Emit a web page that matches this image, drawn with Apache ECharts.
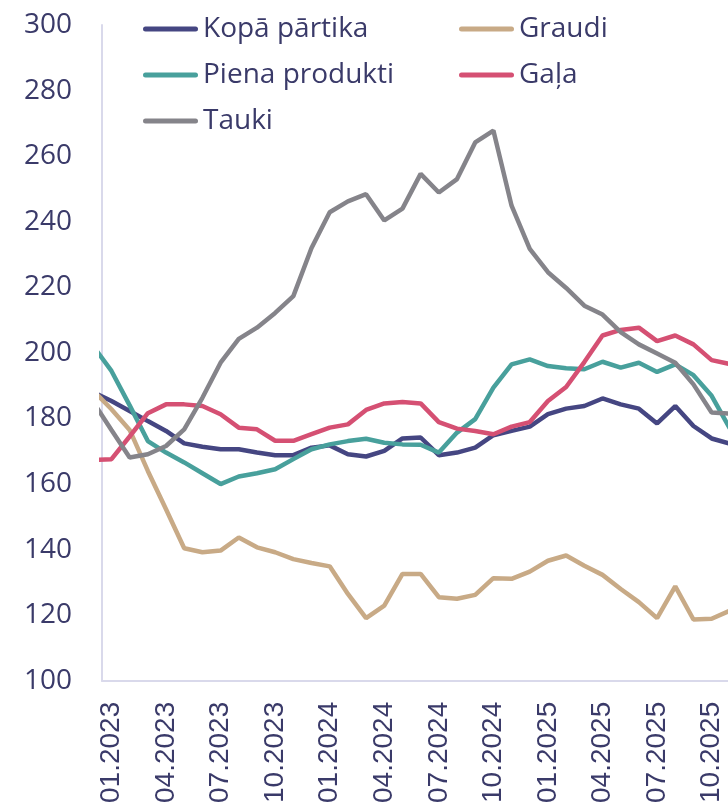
<!DOCTYPE html>
<html>
<head>
<meta charset="utf-8">
<script src="https://cdn.jsdelivr.net/npm/echarts@6/dist/echarts.min.js"></script>
<style>
  html, body { margin: 0; padding: 0; background: #fff; overflow: hidden; }
  #chart { width: 728px; height: 806px; }
</style>
</head>
<body>
<div id="chart"></div>
<script>
// months, first one (12.2022) sits just left of the y axis and gets clipped
const months = [
  '12.2022',
  '01.2023', '02.2023', '03.2023', '04.2023', '05.2023', '06.2023', '07.2023', '08.2023', '09.2023', '10.2023', '11.2023', '12.2023',
  '01.2024', '02.2024', '03.2024', '04.2024', '05.2024', '06.2024', '07.2024', '08.2024', '09.2024', '10.2024', '11.2024', '12.2024',
  '01.2025', '02.2025', '03.2025', '04.2025', '05.2025', '06.2025', '07.2025', '08.2025', '09.2025', '10.2025', '11.2025'
]

const kopa = [188, 185.3, 182.3, 179.2, 176.2, 172.4, 171.4, 170.6, 170.6, 169.6, 168.8, 168.8, 171.1,
  171.8, 169.1, 168.4, 170.1, 173.9, 174.2, 168.8, 169.6, 171.1, 174.9, 176.2, 177.5,
  181.3, 183.0, 183.8, 186.1, 184.3, 183.0, 178.5, 183.8, 177.7, 173.9, 172.3]
const graudi = [188.5, 182.8, 176.5, 164.0, 152.3, 140.4, 139.2, 139.7, 143.7, 140.7, 139.2, 137.1, 135.9,
  134.9, 126.5, 119.1, 122.9, 132.6, 132.6, 125.5, 125.0, 126.2, 131.3, 131.1, 133.3,
  136.6, 138.2, 135.1, 132.3, 128.0, 124.0, 119.1, 128.8, 118.7, 118.9, 121.4]
const piens = [202, 194.5, 184, 173.1, 169.6, 166.6, 163.3, 160.0, 162.3, 163.3, 164.5, 167.6, 170.6,
  172.1, 173.1, 173.8, 172.6, 172.1, 172.0, 169.6, 175.7, 179.8, 189.4, 196.5, 198.0,
  196.0, 195.3, 195.0, 197.3, 195.5, 197.0, 194.2, 196.5, 193.2, 186.9, 177.0]
const gala = [167.3, 167.6, 174.5, 181.6, 184.3, 184.3, 183.8, 181.3, 177.2, 176.7, 173.2, 173.2, 175.2,
  177.2, 178.2, 182.6, 184.6, 185.0, 184.6, 178.9, 176.9, 176.2, 175.2, 177.5, 178.9,
  185.3, 189.6, 197.2, 205.3, 207.0, 207.7, 203.6, 205.3, 202.6, 197.8, 196.6]
const tauki = [185, 176.5, 168.1, 169.1, 171.6, 176.7, 186.3, 197.0, 204.3, 207.7, 212.2, 217.3, 232.0,
  242.9, 246.2, 248.4, 240.4, 244.0, 254.6, 248.9, 253.0, 264.2, 267.8, 244.9, 231.7,
  224.6, 219.8, 214.4, 211.7, 206.3, 202.6, 199.8, 197.0, 190.4, 181.8, 181.5]

const names = ['Kopā pārtika', 'Graudi', 'Piena produkti', 'Gaļa', 'Tauki']
const values = [kopa, graudi, piens, gala, tauki]
const colors = ['#454682', '#c8aa86', '#48a09c', '#d55073', '#85848a']

const textColor = '#3a3a69'
const axisColor = '#d9d9eb'

// x value of each month: 01.2023 -> 0
const toPoints = (arr) => arr.map((v, i) => [i - 1, v])
const labelValues = months.map((m, i) => i - 1).filter((x) => x >= 0 && x % 3 === 0)

const icon = 'path://M2.5,0 L52.5,0 A2.5,2.5,0,0,1,52.5,5 L2.5,5 A2.5,2.5,0,0,1,2.5,0 Z'
const legendBase = {
  orient: 'vertical',
  top: 14,
  padding: 0,
  itemGap: 16,
  itemWidth: 55,
  itemHeight: 5,
  icon,
  itemStyle: { borderWidth: 0 },
  textStyle: { fontFamily: 'Open Sans', fontSize: 28, lineHeight: 30, color: textColor }
}

const chart = echarts.init(document.getElementById('chart'))
chart.setOption({
  animation: false,
  color: colors,
  grid: { left: 102, right: 0, top: 25, bottom: 124 },
  legend: [
    { ...legendBase, left: 143, data: [names[0], names[2], names[4]] },
    { ...legendBase, left: 459, data: [names[1], names[3]] }
  ],
  xAxis: {
    type: 'value',
    min: -0.52,
    max: 33.9,
    axisLine: { onZero: false, lineStyle: { color: axisColor, width: 2 } },
    axisTick: { show: false },
    splitLine: { show: false },
    axisLabel: {
      customValues: labelValues,
      rotate: 90,
      margin: 21,
      fontFamily: 'Liberation Sans',
      fontSize: 28,
      color: textColor,
      formatter: (v) => months[v + 1]
    }
  },
  yAxis: {
    type: 'value',
    min: 100,
    max: 300,
    interval: 20,
    axisLine: { show: true, onZero: false, lineStyle: { color: axisColor, width: 2 } },
    axisTick: { show: false },
    splitLine: { show: false },
    axisLabel: { margin: 30, fontFamily: 'Open Sans', fontSize: 28, color: textColor }
  },
  series: names.map((name, k) => ({
    name,
    type: 'line',
    data: toPoints(values[k]),
    symbol: 'none',
    clip: true,
    lineStyle: { width: 4.5, color: colors[k] }
  }))
})
</script>
</body>
</html>
